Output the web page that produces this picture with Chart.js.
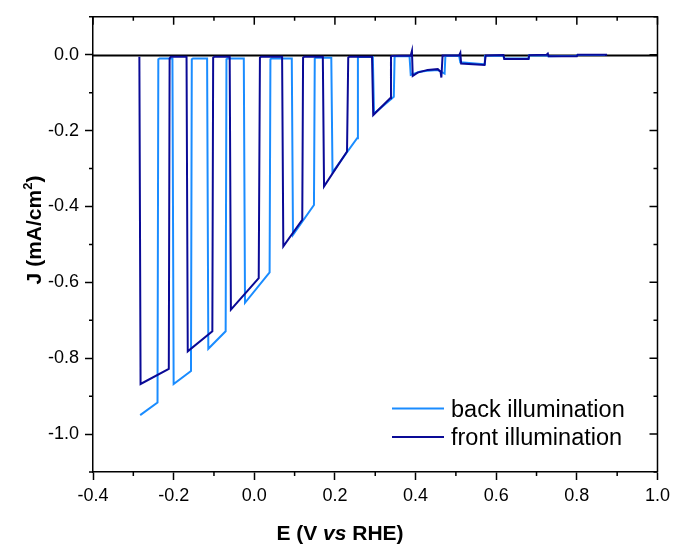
<!DOCTYPE html>
<html>
<head>
<meta charset="utf-8">
<script src="https://cdn.jsdelivr.net/npm/chart.js@4.4.0/dist/chart.umd.min.js"></script>
<style>
  html, body { margin: 0; padding: 0; background: #fff; }
</style>
</head>
<body>
<canvas id="chart" width="675" height="545"></canvas>
<script>
// axis ticks
const xTicks = [-0.4, -0.2, 0.0, 0.2, 0.4, 0.6, 0.8, 1.0];
const xMinor = [-0.3, -0.1, 0.1, 0.3, 0.5, 0.7, 0.9];
const yTicks = [-1.0, -0.8, -0.6, -0.4, -0.2, 0.0];
const yMinor = [-1.1, -0.9, -0.7, -0.5, -0.3, -0.1, 0.1];

const seriesNames = ['back illumination', 'front illumination'];
const seriesColors = ['#1a8cff', '#0a0a96'];

// back illumination (light blue)
const backE = [-0.283, -0.240, -0.238, -0.235, -0.203, -0.200, -0.157, -0.155, -0.152, -0.117,
  -0.114, -0.071, -0.069, -0.066, -0.026, -0.023, 0.038, 0.040, 0.043, 0.093,
  0.096, 0.148, 0.150, 0.153, 0.191, 0.194, 0.255, 0.257, 0.260, 0.294,
  0.297, 0.346, 0.348, 0.351, 0.385, 0.388, 0.410, 0.430, 0.455, 0.472,
  0.474, 0.508, 0.511, 0.570, 0.572, 0.617, 0.620, 0.679, 0.681, 0.727,
  0.729, 0.799, 0.801, 0.870];
const backJ = [-0.950, -0.917, -0.012, -0.010, -0.010, -0.868, -0.834, -0.012, -0.010, -0.010,
  -0.775, -0.729, -0.012, -0.010, -0.010, -0.654, -0.574, -0.012, -0.010, -0.010,
  -0.475, -0.396, -0.010, -0.008, -0.008, -0.310, -0.220, -0.008, -0.006, -0.006,
  -0.155, -0.111, -0.006, -0.004, -0.004, -0.053, -0.045, -0.042, -0.040, -0.050,
  -0.003, -0.003, -0.020, -0.025, -0.003, -0.002, -0.010, -0.010, -0.002, -0.002,
  -0.004, -0.003, -0.001, -0.001];

// front illumination (dark blue)
const frontE = [-0.285, -0.282, -0.212, -0.210, -0.207, -0.168, -0.165, -0.104, -0.102, -0.099,
  -0.061, -0.058, 0.011, 0.014, 0.017, 0.069, 0.072, 0.119, 0.121, 0.124,
  0.170, 0.173, 0.230, 0.233, 0.236, 0.292, 0.295, 0.337, 0.339, 0.342,
  0.388, 0.391, 0.393, 0.405, 0.430, 0.455, 0.462, 0.464, 0.467, 0.508,
  0.511, 0.513, 0.571, 0.574, 0.618, 0.620, 0.680, 0.682, 0.725, 0.728,
  0.730, 0.800, 0.802, 0.875];
const frontJ = [-0.005, -0.868, -0.828, -0.010, -0.005, -0.005, -0.782, -0.729, -0.008, -0.005,
  -0.005, -0.672, -0.589, -0.008, -0.005, -0.005, -0.505, -0.435, -0.008, -0.005,
  -0.005, -0.347, -0.255, -0.008, -0.005, -0.005, -0.159, -0.115, -0.005, -0.003,
  -0.002, 0.010, -0.056, -0.047, -0.040, -0.038, -0.045, -0.060, -0.002, -0.002,
  0.005, -0.023, -0.027, -0.002, -0.001, -0.011, -0.011, -0.001, 0.000, 0.003,
  -0.004, -0.004, 0.000, 0.000];

const FONT = "'Liberation Sans', Arial, sans-serif";

function toPoints(es, js) {
  return es.map((e, i) => ({ x: e, y: js[i] }));
}

// frame, minor ticks, zero line, titles and legend
const decorations = {
  id: 'decorations',
  beforeDatasetsDraw(chart) {
    const { ctx, chartArea: ca, scales: { y } } = chart;
    ctx.save();
    ctx.strokeStyle = '#000';
    ctx.lineWidth = 2;
    const y0 = Math.round(y.getPixelForValue(0)) + 0.5;
    ctx.beginPath();
    ctx.moveTo(ca.left, y0);
    ctx.lineTo(ca.right, y0);
    ctx.stroke();
    ctx.restore();
  },
  afterDraw(chart) {
    const { ctx, chartArea: ca, scales: { x, y } } = chart;
    ctx.save();
    ctx.strokeStyle = '#000';
    ctx.lineWidth = 1.5;

    // top and right sides of the box
    ctx.beginPath();
    ctx.moveTo(ca.left, ca.top);
    ctx.lineTo(ca.right, ca.top);
    ctx.lineTo(ca.right, ca.bottom);
    ctx.stroke();

    ctx.beginPath();
    xTicks.forEach(v => {
      const px = x.getPixelForValue(v);
      ctx.moveTo(px, ca.top);
      ctx.lineTo(px, ca.top + 8);
    });
    xMinor.forEach(v => {
      const px = x.getPixelForValue(v);
      ctx.moveTo(px, ca.top);
      ctx.lineTo(px, ca.top + 4);
      ctx.moveTo(px, ca.bottom);
      ctx.lineTo(px, ca.bottom + 4);
    });
    yTicks.forEach(v => {
      const py = y.getPixelForValue(v);
      ctx.moveTo(ca.right, py);
      ctx.lineTo(ca.right - 8, py);
    });
    yMinor.forEach(v => {
      const py = y.getPixelForValue(v);
      ctx.moveTo(ca.right, py);
      ctx.lineTo(ca.right - 4, py);
      ctx.moveTo(ca.left, py);
      ctx.lineTo(ca.left - 4, py);
    });
    ctx.stroke();

    // x title with italic "vs"
    ctx.fillStyle = '#000';
    ctx.textBaseline = 'alphabetic';
    const parts = [['E (V ', 'bold'], ['vs', 'italic bold'], [' RHE)', 'bold']];
    let total = 0;
    parts.forEach(p => { ctx.font = p[1] + ' 21px ' + FONT; total += ctx.measureText(p[0]).width; });
    let tx = 340 - total / 2;
    parts.forEach(p => {
      ctx.font = p[1] + ' 21px ' + FONT;
      ctx.fillText(p[0], tx, 540);
      tx += ctx.measureText(p[0]).width;
    });

    // y title with superscript 2
    ctx.save();
    ctx.translate(41, 230);
    ctx.rotate(-Math.PI / 2);
    ctx.font = 'bold 21px ' + FONT;
    const a = 'J (mA/cm', c = ')';
    const wa = ctx.measureText(a).width, wc = ctx.measureText(c).width;
    ctx.font = 'bold 13px ' + FONT;
    const wb = ctx.measureText('2').width;
    let sx = -(wa + wb + wc) / 2;
    ctx.font = 'bold 21px ' + FONT;
    ctx.fillText(a, sx, 0);
    ctx.font = 'bold 13px ' + FONT;
    ctx.fillText('2', sx + wa, -9);
    ctx.font = 'bold 21px ' + FONT;
    ctx.fillText(c, sx + wa + wb, 0);
    ctx.restore();

    // legend
    ctx.font = '23.5px ' + FONT;
    seriesNames.forEach((name, i) => {
      const ly = 408.5 + i * 28.5;
      ctx.strokeStyle = seriesColors[i];
      ctx.lineWidth = 2;
      ctx.beginPath();
      ctx.moveTo(392, ly);
      ctx.lineTo(444, ly);
      ctx.stroke();
      ctx.fillStyle = '#000';
      ctx.fillText(name, 451, ly + 8);
    });
    ctx.restore();
  }
};

new Chart(document.getElementById('chart'), {
  type: 'line',
  data: {
    datasets: [
      {
        label: seriesNames[0],
        data: toPoints(backE, backJ),
        borderColor: seriesColors[0],
        borderWidth: 2,
        pointRadius: 0,
        tension: 0,
        order: 2
      },
      {
        label: seriesNames[1],
        data: toPoints(frontE, frontJ),
        borderColor: seriesColors[1],
        borderWidth: 2,
        pointRadius: 0,
        tension: 0,
        order: 1
      }
    ]
  },
  options: {
    responsive: false,
    animation: false,
    devicePixelRatio: 1,
    layout: { padding: { top: 15, right: 16, left: 0, bottom: 0 } },
    plugins: { legend: { display: false }, tooltip: { enabled: false } },
    scales: {
      x: {
        type: 'linear',
        min: -0.4,
        max: 1.0,
        afterBuildTicks: s => { s.ticks = xTicks.map(v => ({ value: v })); },
        afterFit: s => { s.height = 73; },
        grid: { drawOnChartArea: false, drawTicks: true, tickLength: 8, tickColor: '#000', tickWidth: 1.5 },
        border: { display: true, color: '#000', width: 1.5 },
        ticks: {
          color: '#000',
          padding: 5,
          maxRotation: 0,
          font: { family: FONT, size: 18 },
          callback: v => v.toFixed(1)
        }
      },
      y: {
        type: 'linear',
        min: -1.1,
        max: 0.1,
        afterBuildTicks: s => { s.ticks = yTicks.map(v => ({ value: v })); },
        afterFit: s => { s.width = 93; },
        grid: { drawOnChartArea: false, drawTicks: true, tickLength: 8, tickColor: '#000', tickWidth: 1.5 },
        border: { display: true, color: '#000', width: 1.5 },
        ticks: {
          color: '#000',
          padding: 6,
          font: { family: FONT, size: 18 },
          callback: v => v.toFixed(1)
        }
      }
    }
  },
  plugins: [decorations]
});
</script>
</body>
</html>
